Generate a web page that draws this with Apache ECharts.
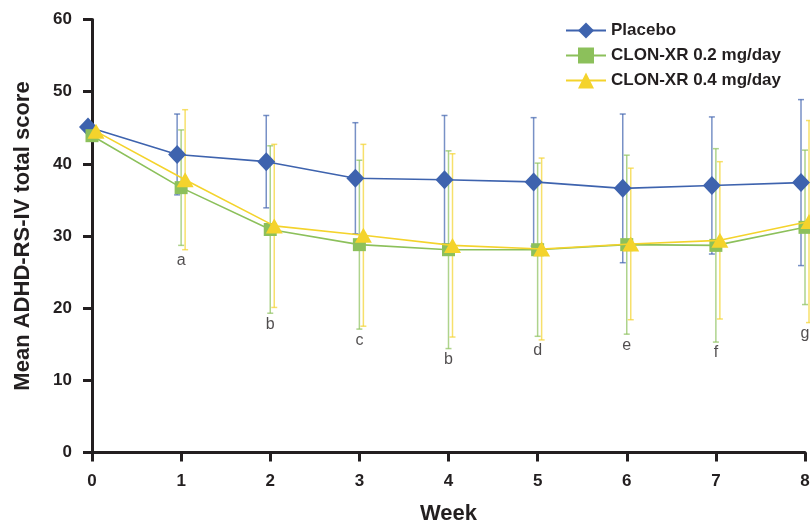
<!DOCTYPE html>
<html>
<head>
<meta charset="utf-8">
<script src="https://cdn.jsdelivr.net/npm/echarts@6/dist/echarts.min.js"></script>
<style>
html, body { margin: 0; padding: 0; background: #ffffff; }
#main { width: 810px; height: 525px; }
</style>
</head>
<body>
<div id="main"></div>
<script>
// weeks on the x axis
const weeks = [0, 1, 2, 3, 4, 5, 6, 7, 8];
const yTicks = [0, 10, 20, 30, 40, 50, 60];

// mean ADHD-RS-IV total score and SD (no bar at baseline)
const placeboMean = [45.1, 41.3, 40.3, 38.0, 37.8, 37.5, 36.6, 37.0, 37.4];
const placeboSd = [null, 5.6, 6.4, 7.7, 8.9, 8.9, 10.3, 9.5, 11.5];
const clon02Mean = [43.9, 36.7, 30.9, 28.8, 28.1, 28.1, 28.8, 28.7, 31.2];
const clon02Sd = [null, 8.0, 11.6, 11.7, 13.7, 12.0, 12.4, 13.4, 10.7];
const clon04Mean = [44.5, 37.8, 31.4, 30.1, 28.7, 28.2, 28.9, 29.4, 32.0];
const clon04Sd = [null, 9.7, 11.3, 12.6, 12.7, 12.6, 10.5, 10.9, 14.0];

// significance letters under each week
const sigLetters = ['', 'a', 'b', 'c', 'b', 'd', 'e', 'f', 'g'];

const dark = '#231f20';
const font = 'Liberation Sans, Arial, sans-serif';
const groups = [
  { name: 'Placebo', mean: placeboMean, sd: placeboSd, color: '#3e63ae', symbol: 'diamond', size: [18, 19] },
  { name: 'CLON-XR 0.2 mg/day', mean: clon02Mean, sd: clon02Sd, color: '#8cc05b', symbol: 'rect', size: [13, 13] },
  { name: 'CLON-XR 0.4 mg/day', mean: clon04Mean, sd: clon04Sd, color: '#f4d32c', symbol: 'triangle', size: [17, 15] }
];

// each group gets its own grid, nudged sideways so the error bars don't sit on top of each other
const gridLefts = [88, 92, 96];
const mainGrid = 1;

const chart = echarts.init(document.getElementById('main'));

function errorBars(color) {
  return function (params, api) {
    const x = api.value(0);
    const top = api.coord([x, api.value(2)]);
    const bot = api.coord([x, api.value(1)]);
    const cap = 3;
    const style = { stroke: color, lineWidth: 1.5, opacity: 0.7 };
    return {
      type: 'group',
      children: [
        { type: 'line', shape: { x1: top[0], y1: top[1], x2: bot[0], y2: bot[1] }, style: style },
        { type: 'line', shape: { x1: top[0] - cap, y1: top[1], x2: top[0] + cap, y2: top[1] }, style: style },
        { type: 'line', shape: { x1: bot[0] - cap, y1: bot[1], x2: bot[0] + cap, y2: bot[1] }, style: style }
      ]
    };
  };
}

const grids = [], xAxes = [], yAxes = [], series = [];
gridLefts.forEach(function (left, i) {
  const shown = i === mainGrid;
  grids.push({ left: left, top: 19.5, width: 713, height: 433, outerBoundsMode: 'none' });
  xAxes.push({
    type: 'value', gridIndex: i, min: 0, max: 8, interval: 1,
    name: shown ? 'Week' : '', nameLocation: 'middle', nameGap: 50,
    nameTextStyle: { color: dark, fontSize: 22, fontWeight: 'bold', fontFamily: font },
    axisLine: { show: shown, onZero: false, lineStyle: { color: dark, width: 3 } },
    axisTick: { show: shown, length: 9, lineStyle: { color: dark, width: 3 } },
    axisLabel: { show: shown, margin: 20, color: dark, fontSize: 17, fontWeight: 'bold', fontFamily: font },
    splitLine: { show: false }
  });
  yAxes.push({
    type: 'value', gridIndex: i, min: yTicks[0], max: yTicks[yTicks.length - 1], interval: 10,
    name: shown ? 'Mean ADHD-RS-IV total score' : '', nameLocation: 'middle', nameGap: 58,
    nameTextStyle: { color: dark, fontSize: 22, fontWeight: 'bold', fontFamily: font },
    axisLine: { show: shown, lineStyle: { color: dark, width: 3 } },
    axisTick: { show: shown, length: 9, lineStyle: { color: dark, width: 3 } },
    axisLabel: { show: shown, margin: 20, color: dark, fontSize: 17, fontWeight: 'bold', fontFamily: font },
    splitLine: { show: false }
  });
});

groups.forEach(function (g, i) {
  const bars = [];
  weeks.forEach(function (w, k) {
    if (g.sd[k] != null) bars.push([w, g.mean[k] - g.sd[k], g.mean[k] + g.sd[k]]);
  });
  series.push({
    type: 'custom',
    name: g.name + ' SD',
    xAxisIndex: i, yAxisIndex: i,
    renderItem: errorBars(g.color),
    encode: { x: 0, y: [1, 2] },
    data: bars,
    z: 1,
    silent: true
  });
});

groups.forEach(function (g, i) {
  series.push({
    type: 'line',
    name: g.name,
    xAxisIndex: i, yAxisIndex: i,
    data: weeks.map(function (w, k) { return [w, g.mean[k]]; }),
    symbol: g.symbol,
    symbolSize: g.size,
    showAllSymbol: true,
    itemStyle: { color: g.color, opacity: 1 },
    lineStyle: { color: g.color, width: 1.6 },
    z: 2 + i
  });
});

// letters sit just below the lowest whisker of the week
const letterPoints = [];
weeks.forEach(function (w, k) {
  if (!sigLetters[k]) return;
  let low = Infinity;
  groups.forEach(function (g) {
    if (g.sd[k] != null) low = Math.min(low, g.mean[k] - g.sd[k]);
  });
  letterPoints.push({ name: sigLetters[k], value: [w, low] });
});
series.push({
  type: 'scatter',
  xAxisIndex: mainGrid, yAxisIndex: mainGrid,
  symbolSize: 0,
  data: letterPoints,
  label: {
    show: true, position: 'bottom', distance: 3, formatter: '{b}',
    color: dark, fontSize: 16, fontFamily: font
  },
  silent: true
});

chart.setOption({
  animation: false,
  grid: grids,
  xAxis: xAxes,
  yAxis: yAxes,
  legend: {
    data: groups.map(function (g) { return g.name; }),
    orient: 'vertical',
    left: 560, top: 17,
    itemWidth: 40, itemHeight: 20, itemGap: 8,
    textStyle: { color: dark, fontSize: 17, fontWeight: 'bold', fontFamily: font }
  },
  series: series
});
</script>
</body>
</html>
